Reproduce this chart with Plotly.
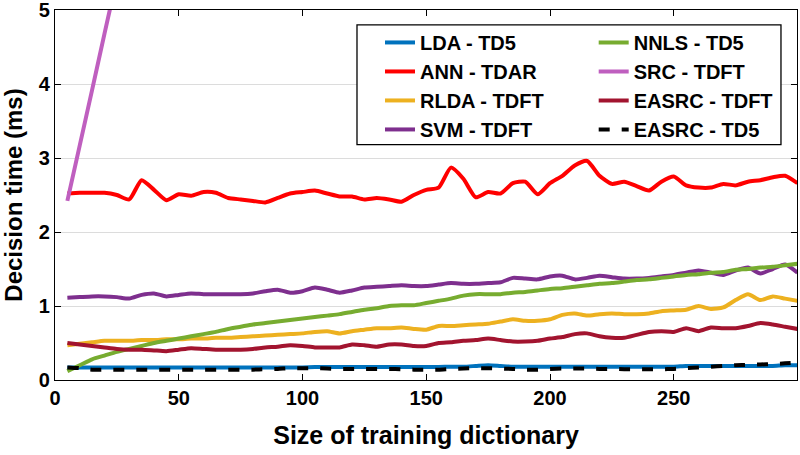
import plotly.graph_objects as go

x_size = list(range(5, 305, 5))

lda_td5 = [0.17, 0.17, 0.17, 0.17, 0.17, 0.17, 0.17, 0.17, 0.17, 0.17,
           0.17, 0.17, 0.17, 0.17, 0.17, 0.17, 0.17, 0.17, 0.17, 0.17,
           0.175, 0.175, 0.175, 0.175, 0.175, 0.175, 0.175, 0.175, 0.175, 0.175,
           0.175, 0.18, 0.18, 0.19, 0.20, 0.19, 0.18, 0.18, 0.18, 0.18,
           0.18, 0.18, 0.18, 0.18, 0.18, 0.18, 0.18, 0.18, 0.18, 0.18,
           0.19, 0.19, 0.19, 0.19, 0.19, 0.19, 0.19, 0.19, 0.20, 0.20]

ann_tdar = [2.52, 2.53, 2.53, 2.53, 2.50, 2.44, 2.70, 2.57, 2.43, 2.51,
            2.49, 2.54, 2.53, 2.46, 2.44, 2.42, 2.40, 2.46, 2.52, 2.54,
            2.56, 2.52, 2.48, 2.48, 2.44, 2.46, 2.44, 2.41, 2.50, 2.57,
            2.60, 2.87, 2.72, 2.47, 2.54, 2.52, 2.66, 2.68, 2.51, 2.66,
            2.76, 2.90, 2.96, 2.76, 2.65, 2.68, 2.62, 2.56, 2.68, 2.75,
            2.63, 2.60, 2.60, 2.65, 2.63, 2.68, 2.70, 2.74, 2.76, 2.66]

rlda_tdft = [0.47, 0.49, 0.51, 0.53, 0.53, 0.53, 0.54, 0.54, 0.55, 0.55,
             0.56, 0.56, 0.57, 0.57, 0.58, 0.59, 0.60, 0.61, 0.62, 0.63,
             0.65, 0.66, 0.63, 0.66, 0.68, 0.70, 0.70, 0.71, 0.69, 0.68,
             0.73, 0.73, 0.74, 0.75, 0.76, 0.79, 0.82, 0.80, 0.80, 0.82,
             0.88, 0.90, 0.87, 0.89, 0.90, 0.89, 0.89, 0.90, 0.93, 0.94,
             0.95, 1.00, 0.96, 0.98, 1.08, 1.16, 1.08, 1.13, 1.10, 1.07]

svm_tdft = [1.11, 1.12, 1.13, 1.13, 1.12, 1.10, 1.15, 1.17, 1.13, 1.15,
            1.17, 1.16, 1.16, 1.16, 1.16, 1.17, 1.20, 1.22, 1.18, 1.20,
            1.25, 1.22, 1.18, 1.21, 1.25, 1.26, 1.27, 1.28, 1.27, 1.27,
            1.29, 1.31, 1.30, 1.30, 1.31, 1.32, 1.38, 1.37, 1.36, 1.40,
            1.41, 1.36, 1.38, 1.41, 1.39, 1.37, 1.37, 1.38, 1.40, 1.42,
            1.45, 1.48, 1.45, 1.42, 1.48, 1.52, 1.44, 1.50, 1.56, 1.45]

nnls_td5 = [0.12, 0.20, 0.28, 0.33, 0.38, 0.42, 0.46, 0.50, 0.53, 0.56,
            0.59, 0.62, 0.65, 0.69, 0.72, 0.75, 0.77, 0.79, 0.81, 0.83,
            0.85, 0.87, 0.89, 0.92, 0.95, 0.97, 1.00, 1.01, 1.01, 1.04,
            1.07, 1.10, 1.14, 1.16, 1.16, 1.16, 1.18, 1.19, 1.21, 1.23,
            1.24, 1.26, 1.28, 1.30, 1.31, 1.33, 1.35, 1.36, 1.38, 1.40,
            1.42, 1.43, 1.45, 1.46, 1.49, 1.50, 1.52, 1.53, 1.55, 1.57]

src_x = [5, 10, 15, 20, 25, 30]
src_tdft = [2.42, 3.17, 3.92, 4.68, 5.43, 6.20]

easrc_tdft = [0.50, 0.48, 0.46, 0.44, 0.42, 0.41, 0.41, 0.40, 0.39, 0.41,
              0.43, 0.42, 0.41, 0.41, 0.41, 0.42, 0.44, 0.45, 0.47, 0.46,
              0.44, 0.44, 0.44, 0.48, 0.47, 0.45, 0.48, 0.48, 0.46, 0.46,
              0.50, 0.51, 0.53, 0.54, 0.56, 0.54, 0.52, 0.52, 0.53, 0.56,
              0.58, 0.62, 0.63, 0.59, 0.57, 0.57, 0.61, 0.65, 0.66, 0.65,
              0.70, 0.66, 0.71, 0.70, 0.70, 0.73, 0.77, 0.75, 0.72, 0.69]

easrc_td5 = [0.17, 0.16, 0.14, 0.14, 0.14, 0.14, 0.14, 0.14, 0.14, 0.14,
             0.14, 0.14, 0.14, 0.14, 0.14, 0.14, 0.145, 0.15, 0.16, 0.16,
             0.16, 0.155, 0.15, 0.15, 0.15, 0.15, 0.15, 0.145, 0.14, 0.14,
             0.14, 0.15, 0.155, 0.16, 0.16, 0.155, 0.15, 0.14, 0.14, 0.15,
             0.155, 0.155, 0.155, 0.15, 0.15, 0.145, 0.145, 0.145, 0.145, 0.15,
             0.16, 0.17, 0.18, 0.19, 0.20, 0.205, 0.21, 0.215, 0.225, 0.235]

x_ticks = [0, 50, 100, 150, 200, 250]
y_ticks = [0, 1, 2, 3, 4, 5]

FONT = "Arial, Liberation Sans, sans-serif"
LW = 4

fig = go.Figure()

# (name, x, y, color, dash, legend, rank)
series = [
    ("LDA - TD5", x_size, lda_td5, "#0072BD", "solid", "legend", 1),
    ("ANN - TDAR", x_size, ann_tdar, "#FF0000", "solid", "legend", 2),
    ("RLDA - TDFT", x_size, rlda_tdft, "#EDB120", "solid", "legend", 3),
    ("SVM - TDFT", x_size, svm_tdft, "#7E2F8E", "solid", "legend", 4),
    ("NNLS - TD5", x_size, nnls_td5, "#77AC30", "solid", "legend2", 5),
    ("SRC - TDFT", src_x, src_tdft, "#BF5FBF", "solid", "legend2", 6),
    ("EASRC - TDFT", x_size, easrc_tdft, "#A2142F", "solid", "legend2", 7),
    ("EASRC - TD5", x_size, easrc_td5, "#000000", "11px,12px", "legend2", 8),
]

for name, xs, ys, color, dash, leg, rank in series:
    fig.add_trace(go.Scatter(
        x=xs, y=ys, name=name, mode="lines",
        line=dict(color=color, width=LW, dash=dash, shape="spline", smoothing=0.6),
        legend=leg, legendgroup=name, legendrank=rank,
    ))

legend_common = dict(
    bgcolor="rgba(0,0,0,0)", borderwidth=0,
    font=dict(family=FONT, size=20, color="black", weight="bold"),
    tracegroupgap=0, traceorder="grouped",
    xanchor="left", yanchor="top",
)

fig.update_layout(
    width=800, height=455,
    margin=dict(l=55, r=3, t=10, b=75, autoexpand=False),
    paper_bgcolor="white", plot_bgcolor="white",
    font=dict(family=FONT, color="black"),
    showlegend=True,
    legend=dict(x=0.438, y=0.965, **legend_common),
    legend2=dict(x=0.726, y=0.965, **legend_common),
    shapes=[dict(type="rect", xref="paper", yref="paper",
                 x0=0.407, x1=0.9784, y0=0.636, y1=0.9596,
                 line=dict(color="black", width=1.3),
                 fillcolor="white", layer="above")],
    xaxis=dict(
        range=[0, 299.8], tickvals=x_ticks, ticktext=[str(v) for v in x_ticks],
        ticks="inside", ticklen=6, tickcolor="black", tickwidth=1.3,
        showline=True, linecolor="black", linewidth=1.3, mirror="ticks",
        showgrid=False, zeroline=False, automargin=False,
        ticklabeloverflow="allow",
        tickfont=dict(family=FONT, size=20, color="black", weight="bold"),
        title=dict(text="Size of training dictionary",
                   font=dict(family=FONT, size=25, color="black", weight="bold"),
                   standoff=18),
    ),
    yaxis=dict(
        range=[0, 5], tickvals=y_ticks, ticktext=[str(v) for v in y_ticks],
        ticks="inside", ticklen=6, tickcolor="black", tickwidth=1.3,
        showline=True, linecolor="black", linewidth=1.3, mirror="ticks",
        showgrid=True, gridcolor="#DCDCDC", gridwidth=1, zeroline=False,
        automargin=False, ticklabeloverflow="allow",
        tickfont=dict(family=FONT, size=20, color="black", weight="bold"),
        title=dict(text="Decision time (ms)",
                   font=dict(family=FONT, size=24, color="black", weight="bold"),
                   standoff=12),
    ),
)

fig.write_html(
    "out.html",
    config={"displayModeBar": False},
    post_script="document.body.style.margin='0';document.body.style.overflow='hidden';",
)
